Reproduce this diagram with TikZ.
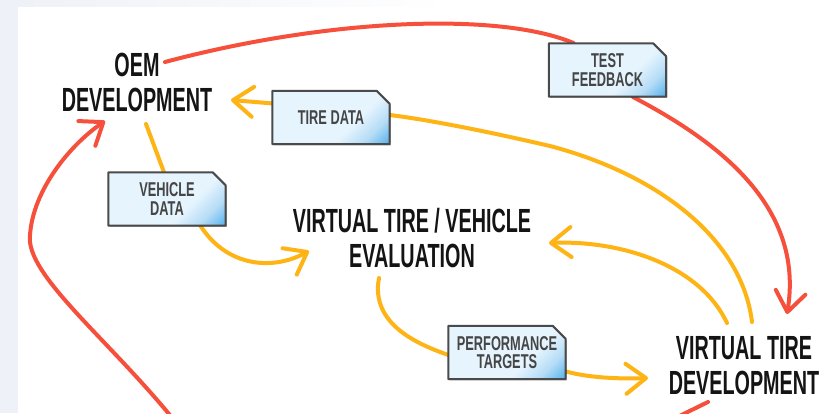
\documentclass[tikz,border=0pt]{standalone}
\usepackage{fontspec}
\setmainfont{Liberation Sans}
\newfontfamily\headfnt{Liberation Sans}[FakeStretch=0.59]
\newfontfamily\tagfnt{Liberation Sans}[FakeStretch=0.64]
\usetikzlibrary{arrows.meta,shadows}

\definecolor{flowred}{HTML}{F6503D}
\definecolor{floworange}{HTML}{FDB414}
\definecolor{headink}{HTML}{141414}
\definecolor{tagink}{HTML}{454545}
\definecolor{tagedge}{HTML}{4A4A4A}
\definecolor{tagpale}{HTML}{E6F4FE}
\definecolor{tagmid}{HTML}{B5DCF6}
\definecolor{tagdeep}{HTML}{4CAEEC}
\definecolor{sideband}{HTML}{EEF1F7}

% pale label fill that turns blue towards one corner
\pgfdeclarehorizontalshading{tagshade}{100bp}{color(0bp)=(tagpale); color(62bp)=(tagpale); color(74bp)=(tagmid); color(86bp)=(tagdeep); color(100bp)=(tagdeep)}

\pgfdeclarelayer{back}
\pgfdeclarelayer{lines}
\pgfdeclarelayer{boxes}
\pgfsetlayers{back,lines,boxes,main}

\begin{document}
\begin{tikzpicture}[x=1pt,y=-1pt,
  headtxt/.style={font=\headfnt\bfseries\fontsize{33.5}{35}\selectfont,
    align=center, inner sep=0pt, text=headink},
  tagtxt/.style={font=\tagfnt\bfseries\fontsize{20}{18.5}\selectfont,
    align=center, inner sep=0pt, minimum width=117pt, minimum height=53pt,
    text=tagink},
  tagshape/.style={shade, shading=tagshade, shading angle=-45,
    draw=tagedge, line width=2pt, line join=round,
    drop shadow={shadow xshift=1.2pt, shadow yshift=-1.2pt, opacity=0.3, fill=black}},
  flow/.style={line width=4pt, line cap=round},
  redflow/.style={flow, draw=flowred},
  orflow/.style={flow, draw=floworange},
  barbed/.style={-{Straight Barb[length=20pt,width=30pt,round]}}]

\useasboundingbox (0,0) rectangle (827,413);

\begin{pgfonlayer}{back}
  \fill[sideband] (0,0) rectangle (827,413);
  \fill[white] (18,6) rectangle (827,413);
  \fill[white] (450,0) rectangle (827,6);
  \shade[left color=sideband, right color=white] (18,0) rectangle (450,6);
\end{pgfonlayer}

% main stages
\node[headtxt] (oem)  at (137,82)  {OEM\\DEVELOPMENT};
\node[headtxt] (eval) at (412,238) {VIRTUAL TIRE / VEHICLE\\EVALUATION};
\node[headtxt] (vtd)  at (744,366) {VIRTUAL TIRE\\DEVELOPMENT};

% data tags
\node[tagtxt] (tdata) at (331,117.5) {TIRE DATA};
\node[tagtxt] (test)  at (607.5,70)  {TEST\\FEEDBACK};
\node[tagtxt] (vdata) at (167,199)   {VEHICLE\\DATA};
\node[tagtxt] (perf)  at (507,352.5) {PERFORMANCE\\TARGETS};

\begin{pgfonlayer}{boxes}
  \foreach \t in {tdata,test,vdata,perf}{
    \path[tagshape] (\t.south west) -- (\t.north west)
      -- ([xshift=-13pt]\t.north east) -- ([yshift=-13pt]\t.north east)
      -- (\t.south east) -- cycle;
  }
\end{pgfonlayer}

\coordinate (redin)  at (178,425);
\coordinate (redout) at (655,428);

\begin{pgfonlayer}{lines}
  \begin{scope}
    \clip (0,0) rectangle (827,413);
    % test feedback loop
    \draw[redflow] ([shift={(28,-20)}]oem.center)
      .. controls (330,18) and (500,12) .. ([shift={(-34,-27)}]test.center);
    \draw[redflow, barbed] ([shift={(25.5,27)}]test.center)
      .. controls (715,140) and (805,205) .. ([shift={(43,-52)}]vtd.center);
    % return into OEM development
    \draw[redflow, barbed] (redin) .. controls (110,340) and (25,275) .. (30,235)
      .. controls (33,190) and (70,145) .. ([shift={(-32,39)}]oem.center);
    \draw[redflow] ([shift={(-36,36)}]vtd.center) -- (redout);

    % vehicle data
    \draw[orflow] ([shift={(9,42)}]oem.center) -- ([xshift=-3pt]vdata.north);
    \draw[orflow, barbed] ([shift={(33,26)}]vdata.center)
      .. controls (225,265) and (270,272) .. ([shift={(-103,13)}]eval.center);
    % performance targets
    \draw[orflow] ([shift={(-33,40)}]eval.center)
      .. controls (370,325) and (420,345) .. ([yshift=-2.5pt]perf.west);
    \draw[orflow, barbed] ([shift={(59,19)}]perf.center)
      .. controls (590,378) and (620,379) .. ([shift={(-96,12)}]vtd.center);
    % tire data
    \draw[orflow] ([shift={(8,-44)}]vtd.center)
      .. controls (742,240) and (660,175) .. (550,146)
      .. controls (490,132) and (430,120) .. ([shift={(59,-2.5)}]tdata.center);
    \draw[orflow, barbed] ([shift={(-58,-14)}]tdata.center) -- ([shift={(94,18)}]oem.center);
    % virtual tire back to evaluation
    \draw[orflow, barbed] ([shift={(-17,-43)}]vtd.center)
      .. controls (700,265) and (620,240) .. ([shift={(137,5)}]eval.center);
  \end{scope}
\end{pgfonlayer}

\end{tikzpicture}
\end{document}
